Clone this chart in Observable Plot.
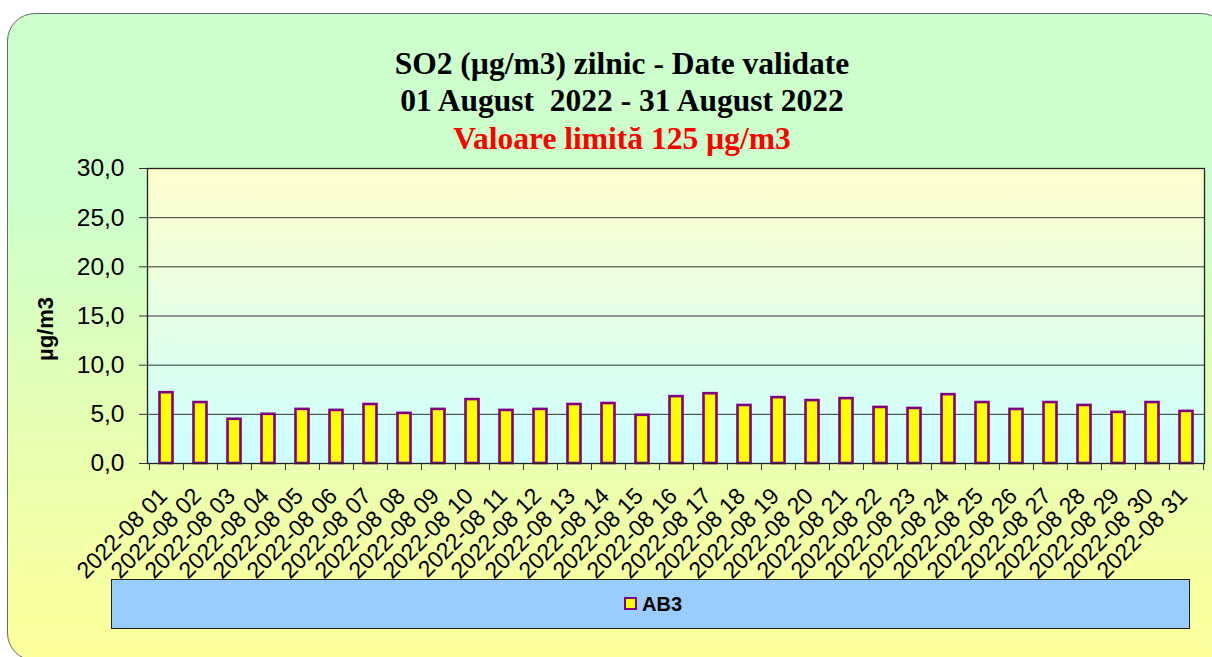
<!DOCTYPE html>
<html><head><meta charset="utf-8">
<script src="https://cdn.jsdelivr.net/npm/d3@7"></script>
<script src="https://cdn.jsdelivr.net/npm/@observablehq/plot@0.6"></script>
<style>
body{margin:0;background:#fff;}
#wrap{position:relative;width:1212px;height:657px;overflow:hidden;background:#fff;}
#box{position:absolute;left:7px;top:13px;width:1222px;height:648px;border:1.5px solid #666;border-radius:28px;box-sizing:border-box;
 background:linear-gradient(to bottom,#ccffcc 0%,#ccffcc 28%,#ffff99 100%);}
.t{position:absolute;left:0;width:1244px;text-align:center;font-family:"Liberation Serif","Times New Roman",serif;font-weight:bold;font-size:31.5px;white-space:pre;line-height:1;color:#000;}
#chart{position:absolute;left:0;top:150px;}
#legend{position:absolute;left:111px;top:579px;width:1079px;height:50px;background:#99ccff;border:1px solid #222;box-sizing:border-box;}
#lm{position:absolute;left:512px;top:17px;width:13px;height:13px;background:#ffff00;border:2.5px solid #800080;box-sizing:border-box;}
#lt{position:absolute;left:530px;top:14px;font-family:"Liberation Sans",Arial,sans-serif;font-weight:bold;font-size:20px;line-height:1;}
</style></head>
<body>
<div id="wrap">
  <div id="box"></div>
  <div class="t" style="top:48px">SO2 (µg/m3) zilnic - Date validate</div>
  <div class="t" style="top:85px">01 August  2022 - 31 August 2022</div>
  <div class="t" style="top:123px;color:#ff0000">Valoare limită 125 µg/m3</div>
  <div id="chart"></div>
  <div id="legend"><div id="lm"></div><div id="lt">AB3</div></div>
</div>
<script>
const categories = ["2022-08 01","2022-08 02","2022-08 03","2022-08 04","2022-08 05","2022-08 06","2022-08 07","2022-08 08","2022-08 09","2022-08 10","2022-08 11","2022-08 12","2022-08 13","2022-08 14","2022-08 15","2022-08 16","2022-08 17","2022-08 18","2022-08 19","2022-08 20","2022-08 21","2022-08 22","2022-08 23","2022-08 24","2022-08 25","2022-08 26","2022-08 27","2022-08 28","2022-08 29","2022-08 30","2022-08 31"];
const valuesAB3 = [7.2,6.2,4.5,5.0,5.5,5.4,6.0,5.1,5.5,6.5,5.4,5.5,6.0,6.1,4.9,6.8,7.1,5.9,6.7,6.4,6.6,5.7,5.6,7.0,6.2,5.5,6.2,5.9,5.2,6.2,5.3];
const yTicks = [0,5,10,15,20,25,30];
const seriesName = "AB3";
const yLabel = "µg/m3";

const data = categories.map((c, i) => ({date: c, value: valuesAB3[i], series: seriesName}));

const W = 1212, H = 430, mL = 147, mR = 8, mT = 18, mB = 117;
const step = (W - mL - mR) / categories.length;
const fmt = d => d.toFixed(1).replace(".", ",");

const svg = Plot.plot({
  width: W, height: H,
  marginLeft: mL, marginRight: mR, marginTop: mT, marginBottom: mB,
  style: {background: "transparent", fontFamily: "'Liberation Sans', Arial, sans-serif", fontSize: "21px", color: "#000", overflow: "visible"},
  x: {type: "band", domain: categories, padding: 0, label: null},
  y: {domain: [0, 30], label: null},
  marks: [
    Plot.frame({fill: "url(#plotbg)", stroke: "none"}),
    Plot.gridY({ticks: yTicks.slice(1, -1), stroke: "#333", strokeOpacity: 1, strokeWidth: 1}),
    Plot.barY(data, {x: "date", y: "value", fill: "#ffff00", stroke: "#800080", strokeWidth: 2.6, insetLeft: 10.5, insetRight: 10.5}),
    Plot.frame({stroke: "#222", strokeWidth: 1.3}),
    Plot.axisY({ticks: yTicks, tickFormat: fmt, tickSize: 8, tickPadding: 15, fontSize: 24.5, stroke: "#333", label: null}),
    Plot.axisX({tickSize: 7, tickFormat: () => "", dx: -step / 2, stroke: "#333", label: null}),
    Plot.axisX({ticks: [categories[categories.length - 1]], tickSize: 7, tickFormat: () => "", dx: step / 2, stroke: "#333", label: null}),
    Plot.text(categories, {x: d => d, frameAnchor: "bottom", text: d => d, rotate: -45, textAnchor: "end", lineAnchor: "bottom", dy: 34, dx: 2, fontSize: 23, fill: "#000"}),
    Plot.text([yLabel], {frameAnchor: "left", text: d => d, rotate: -90, dx: -102, dy: 13, fontWeight: "bold", fontSize: 22, textAnchor: "middle", lineAnchor: "middle", fill: "#000"})
  ]
});
svg.insertAdjacentHTML("afterbegin", '<defs><linearGradient id="plotbg" x1="0" y1="0" x2="0" y2="1"><stop offset="0" stop-color="#ffffcc"/><stop offset="1" stop-color="#ccffff"/></linearGradient></defs>');
document.getElementById("chart").appendChild(svg);
</script>
</body></html>
